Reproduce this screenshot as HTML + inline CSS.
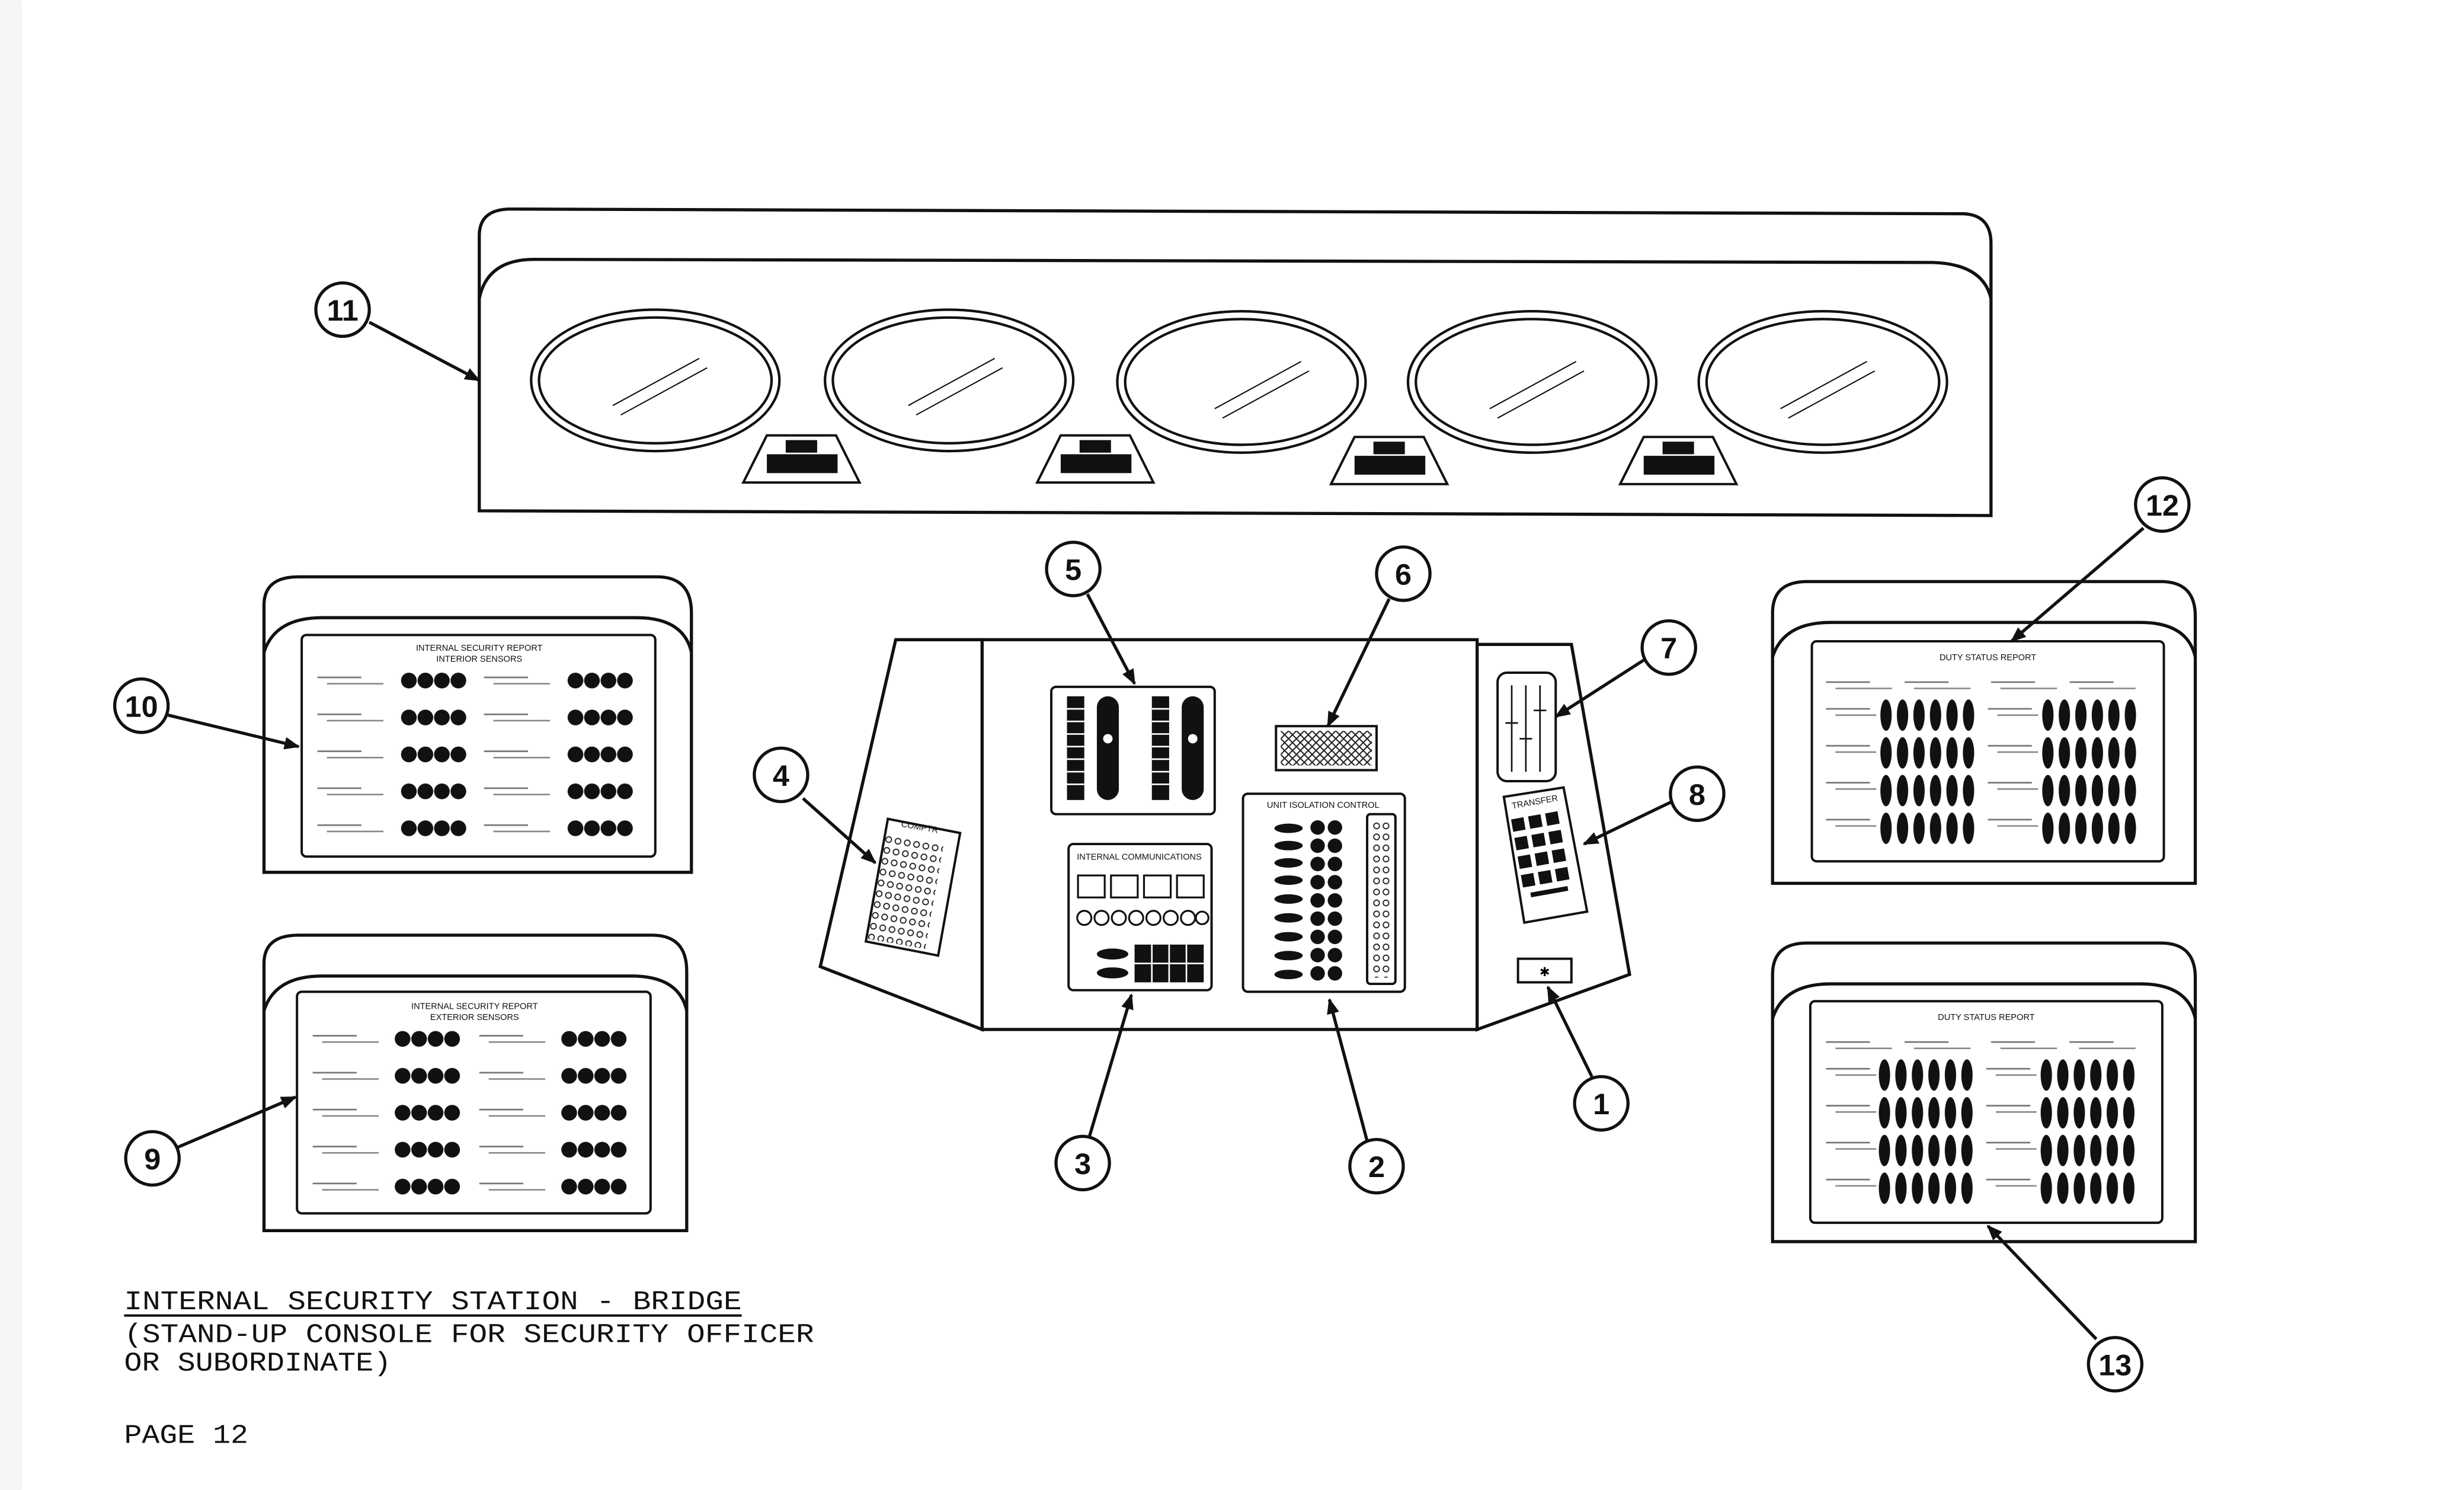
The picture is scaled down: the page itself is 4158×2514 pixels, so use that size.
<!DOCTYPE html>
<html><head><meta charset="utf-8">
<style>
html,body{margin:0;padding:0;background:#fff;}
svg{display:block;}
</style></head>
<body>
<svg width="4158" height="2514" viewBox="0 0 1568 948" xmlns="http://www.w3.org/2000/svg">
<defs>
<marker id="ah" markerWidth="10" markerHeight="8" refX="9" refY="4" orient="auto" markerUnits="userSpaceOnUse">
<path d="M0,0 L10,4 L0,8 Z" fill="#111"/>
</marker>
<pattern id="ov" width="10.5" height="24" patternUnits="userSpaceOnUse">
<ellipse cx="5.2" cy="12" rx="3.6" ry="10" fill="#111"/>
</pattern>
<pattern id="hx" width="10.5" height="23.5" patternUnits="userSpaceOnUse">
<circle cx="5.2" cy="6" r="5" fill="#111"/>
</pattern>
<pattern id="hx2" width="11" height="11.6" patternUnits="userSpaceOnUse">
<circle cx="5.5" cy="5.5" r="4.6" fill="#111"/>
</pattern>
<pattern id="xh" width="5" height="5" patternUnits="userSpaceOnUse">
<path d="M0,0 L5,5 M5,0 L0,5" stroke="#222" stroke-width="0.8"/>
</pattern>
<pattern id="dots" width="6" height="7" patternUnits="userSpaceOnUse">
<circle cx="3" cy="3.5" r="1.8" fill="none" stroke="#222" stroke-width="0.7"/>
</pattern>
<pattern id="txt" width="50" height="23.5" patternUnits="userSpaceOnUse">
<line x1="2" y1="4" x2="30" y2="4" stroke="#777" stroke-width="1"/>
<line x1="8" y1="8" x2="44" y2="8" stroke="#888" stroke-width="1"/>
</pattern>
</defs>
<rect width="1568" height="948" fill="#fff"/>
<rect x="0" y="0" width="14" height="948" fill="#f5f5f8"/>

<g fill="none" stroke="#111" stroke-width="2">
<path d="M305,325 L305,150 Q305,133 325,133 L1250,136 Q1267,137 1267,155 L1267,328 Z" fill="#fff"/>
<path d="M305,190 Q310,165 340,165 L1230,167 Q1262,168 1267,190"/>
<g stroke-width="1.6">
<ellipse cx="417" cy="242" rx="79" ry="45"/><ellipse cx="417" cy="242" rx="74" ry="40"/>
<ellipse cx="604" cy="242" rx="79" ry="45"/><ellipse cx="604" cy="242" rx="74" ry="40"/>
<ellipse cx="790" cy="243" rx="79" ry="45"/><ellipse cx="790" cy="243" rx="74" ry="40"/>
<ellipse cx="975" cy="243" rx="79" ry="45"/><ellipse cx="975" cy="243" rx="74" ry="40"/>
<ellipse cx="1160" cy="243" rx="79" ry="45"/><ellipse cx="1160" cy="243" rx="74" ry="40"/>
</g>
<g stroke-width="0.8">
<path d="M390,258 L445,228 M395,264 L450,234"/>
<path d="M578,258 L633,228 M583,264 L638,234"/>
<path d="M773,260 L828,230 M778,266 L833,236"/>
<path d="M948,260 L1003,230 M953,266 L1008,236"/>
<path d="M1133,260 L1188,230 M1138,266 L1193,236"/>
</g>
<g stroke-width="1.5">
<path d="M488,277 L532,277 L547,307 L473,307 Z"/>
<path d="M675,277 L719,277 L734,307 L660,307 Z"/>
<path d="M862,278 L906,278 L921,308 L847,308 Z"/>
<path d="M1046,278 L1090,278 L1105,308 L1031,308 Z"/>
</g>
</g>
<g fill="#111">
<rect x="500" y="280" width="20" height="8"/><rect x="488" y="289" width="45" height="12"/>
<rect x="687" y="280" width="20" height="8"/><rect x="675" y="289" width="45" height="12"/>
<rect x="874" y="281" width="20" height="8"/><rect x="862" y="290" width="45" height="12"/>
<rect x="1058" y="281" width="20" height="8"/><rect x="1046" y="290" width="45" height="12"/>
</g>

<g fill="#fff" stroke="#111" stroke-width="2">
<path d="M168,555 L168,385 Q168,367 190,367 L418,367 Q440,367 440,390 L440,555 Z"/>
<path d="M168,415 Q175,393 205,393 L405,393 Q435,393 440,415" fill="none"/>
<rect x="192" y="404" width="225" height="141" rx="3" stroke-width="1.5"/>
<path d="M168,783 L168,613 Q168,595 190,595 L415,595 Q437,595 437,618 L437,783 Z"/>
<path d="M168,643 Q175,621 205,621 L402,621 Q432,621 437,643" fill="none"/>
<rect x="189" y="631" width="225" height="141" rx="3" stroke-width="1.5"/>
<path d="M1128,562 L1128,390 Q1128,370 1150,370 L1375,370 Q1397,370 1397,392 L1397,562 Z"/>
<path d="M1128,418 Q1135,396 1165,396 L1362,396 Q1392,396 1397,418" fill="none"/>
<rect x="1153" y="408" width="224" height="140" rx="3" stroke-width="1.5"/>
<path d="M1128,790 L1128,620 Q1128,600 1150,600 L1375,600 Q1397,600 1397,622 L1397,790 Z"/>
<path d="M1128,648 Q1135,626 1165,626 L1362,626 Q1392,626 1397,648" fill="none"/>
<rect x="1152" y="637" width="224" height="141" rx="3" stroke-width="1.5"/>
</g>
<g font-family="Liberation Sans, sans-serif" font-size="5.5" text-anchor="middle" fill="#111">
<text x="305" y="414">INTERNAL SECURITY REPORT</text><text x="305" y="421">INTERIOR SENSORS</text>
<text x="302" y="642">INTERNAL SECURITY REPORT</text><text x="302" y="649">EXTERIOR SENSORS</text>
<text x="1265" y="420">DUTY STATUS REPORT</text>
<text x="1264" y="649">DUTY STATUS REPORT</text>
</g>
<g transform="translate(200,427)"><rect width="52" height="117" fill="url(#txt)"/></g>
<g transform="translate(306,427)"><rect width="52" height="117" fill="url(#txt)"/></g>
<g transform="translate(255,427)"><rect width="42" height="117" fill="url(#hx)"/></g>
<g transform="translate(361,427)"><rect width="42" height="117" fill="url(#hx)"/></g>
<g transform="translate(197,655)"><rect width="52" height="117" fill="url(#txt)"/></g>
<g transform="translate(303,655)"><rect width="52" height="117" fill="url(#txt)"/></g>
<g transform="translate(251,655)"><rect width="42" height="117" fill="url(#hx)"/></g>
<g transform="translate(357,655)"><rect width="42" height="117" fill="url(#hx)"/></g>
<g transform="translate(1160,430)"><rect width="100" height="9" fill="url(#txt)"/></g>
<g transform="translate(1265,430)"><rect width="100" height="9" fill="url(#txt)"/></g>
<g transform="translate(1160,447)"><rect width="34" height="96" fill="url(#txt)"/></g>
<g transform="translate(1263,447)"><rect width="34" height="96" fill="url(#txt)"/></g>
<g transform="translate(1195,443)"><rect width="63" height="96" fill="url(#ov)"/></g>
<g transform="translate(1298,443)"><rect width="63" height="96" fill="url(#ov)"/></g>
<g transform="translate(1160,659)"><rect width="100" height="9" fill="url(#txt)"/></g>
<g transform="translate(1265,659)"><rect width="100" height="9" fill="url(#txt)"/></g>
<g transform="translate(1160,676)"><rect width="34" height="96" fill="url(#txt)"/></g>
<g transform="translate(1262,676)"><rect width="34" height="96" fill="url(#txt)"/></g>
<g transform="translate(1194,672)"><rect width="63" height="96" fill="url(#ov)"/></g>
<g transform="translate(1297,672)"><rect width="63" height="96" fill="url(#ov)"/></g>

<g fill="#fff" stroke="#111" stroke-width="2">
<path d="M570,407 L625,407 L625,655 L522,615 Z"/>
<rect x="625" y="407" width="315" height="248"/>
<path d="M940,410 L1000,410 L1037,620 L940,655 Z"/>
</g>
<g fill="none" stroke="#111" stroke-width="1.5">
<rect x="669" y="437" width="104" height="81" rx="3"/>
<rect x="812" y="462" width="64" height="28"/>
<rect x="680" y="537" width="91" height="93" rx="3"/>
<rect x="791" y="505" width="103" height="126" rx="3"/>
<rect x="870" y="518" width="18" height="108" rx="2"/>
<path d="M565,521 L611,530 L597,608 L551,599 Z"/>
<rect x="953" y="428" width="37" height="69" rx="6"/>
<path d="M957,507 L995,501 L1010,580 L970,587 Z"/>
<rect x="966" y="610" width="34" height="15"/>
</g>
<g transform="translate(815,465)"><rect width="58" height="22" fill="url(#xh)"/></g>
<g fill="#111">
<rect x="679" y="443" width="11" height="66"/><rect x="733" y="443" width="11" height="66"/>
<rect x="698" y="443" width="14" height="66" rx="7"/><rect x="752" y="443" width="14" height="66" rx="7"/>
</g>
<g stroke="#fff" stroke-width="1"><path d="M679,451h11M679,459h11M679,467h11M679,475h11M679,483h11M679,491h11M679,499h11M733,451h11M733,459h11M733,467h11M733,475h11M733,483h11M733,491h11M733,499h11"/></g>
<circle cx="705" cy="470" r="3" fill="#fff"/><circle cx="759" cy="470" r="3" fill="#fff"/>
<g font-family="Liberation Sans, sans-serif" font-size="5.5" text-anchor="middle" fill="#111">
<text x="725" y="547">INTERNAL COMMUNICATIONS</text>
<text x="842" y="514">UNIT ISOLATION CONTROL</text>
<text x="585" y="528" transform="rotate(10 585 528)">COMPTR</text>
<text x="977" y="512" transform="rotate(-10 977 512)">TRANSFER</text>
</g>
<g fill="none" stroke="#111" stroke-width="1.2">
<rect x="686" y="557" width="17" height="14"/><rect x="707" y="557" width="17" height="14"/>
<rect x="728" y="557" width="17" height="14"/><rect x="749" y="557" width="17" height="14"/>
<circle cx="690" cy="584" r="4.5"/><circle cx="701" cy="584" r="4.5"/><circle cx="712" cy="584" r="4.5"/><circle cx="723" cy="584" r="4.5"/><circle cx="734" cy="584" r="4.5"/><circle cx="745" cy="584" r="4.5"/><circle cx="756" cy="584" r="4.5"/><circle cx="765" cy="584" r="4"/>
</g>
<g fill="#111">
<ellipse cx="708" cy="607" rx="10" ry="3.5"/><ellipse cx="708" cy="619" rx="10" ry="3.5"/>
<rect x="722" y="601" width="44" height="24"/>
</g>
<g stroke="#fff" stroke-width="1"><path d="M733,601v24M744,601v24M755,601v24M722,613h44"/></g>
<g fill="#111">
<ellipse cx="820" cy="527" rx="9" ry="3"/><ellipse cx="820" cy="538" rx="9" ry="3"/><ellipse cx="820" cy="549" rx="9" ry="3"/><ellipse cx="820" cy="560" rx="9" ry="3"/><ellipse cx="820" cy="572" rx="9" ry="3"/><ellipse cx="820" cy="584" rx="9" ry="3"/><ellipse cx="820" cy="596" rx="9" ry="3"/><ellipse cx="820" cy="608" rx="9" ry="3"/><ellipse cx="820" cy="620" rx="9" ry="3"/>
</g>
<g transform="translate(833,521)"><rect width="22" height="104" fill="url(#hx2)"/></g>
<g transform="translate(873,522)"><rect width="12" height="100" fill="url(#dots)"/></g>
<g transform="rotate(10 576 567) translate(557,533)"><rect width="38" height="68" fill="url(#dots)"/></g>
<g stroke="#111" stroke-width="1"><path d="M962,436v55M971,436v55M980,436v55"/><path d="M958,460h8M967,470h8M976,452h8"/></g>
<g fill="#111" transform="rotate(-10 983 545)">
<rect x="966" y="518" width="8" height="8"/><rect x="977" y="518" width="8" height="8"/><rect x="988" y="518" width="8" height="8"/>
<rect x="966" y="530" width="8" height="8"/><rect x="977" y="530" width="8" height="8"/><rect x="988" y="530" width="8" height="8"/>
<rect x="966" y="542" width="8" height="8"/><rect x="977" y="542" width="8" height="8"/><rect x="988" y="542" width="8" height="8"/>
<rect x="966" y="554" width="8" height="8"/><rect x="977" y="554" width="8" height="8"/><rect x="988" y="554" width="8" height="8"/>
<rect x="970" y="566" width="24" height="3"/>
</g>
<text x="983" y="621" font-size="8" text-anchor="middle" font-family="Liberation Sans, sans-serif">✱</text>

<g stroke="#111" stroke-width="2" marker-end="url(#ah)">
<line x1="235" y1="205" x2="305" y2="242"/>
<line x1="107" y1="455" x2="190" y2="475"/>
<line x1="113" y1="730" x2="188" y2="698"/>
<line x1="692" y1="378" x2="722" y2="435"/>
<line x1="884" y1="381" x2="845" y2="462"/>
<line x1="1046" y1="420" x2="990" y2="456"/>
<line x1="1064" y1="510" x2="1008" y2="537"/>
<line x1="511" y1="508" x2="557" y2="549"/>
<line x1="1013" y1="685" x2="985" y2="628"/>
<line x1="870" y1="726" x2="846" y2="636"/>
<line x1="693" y1="724" x2="720" y2="633"/>
<line x1="1364" y1="336" x2="1280" y2="408"/>
<line x1="1334" y1="852" x2="1265" y2="780"/>
</g>
<g fill="#fff" stroke="#111" stroke-width="2">
<circle cx="218" cy="197" r="17"/><circle cx="90" cy="449" r="17"/><circle cx="97" cy="737" r="17"/>
<circle cx="683" cy="362" r="17"/><circle cx="893" cy="365" r="17"/><circle cx="1062" cy="412" r="17"/>
<circle cx="1080" cy="505" r="17"/><circle cx="497" cy="493" r="17"/><circle cx="1019" cy="702" r="17"/>
<circle cx="876" cy="742" r="17"/><circle cx="689" cy="740" r="17"/><circle cx="1376" cy="321" r="17"/>
<circle cx="1346" cy="868" r="17"/>
</g>
<g font-family="Liberation Sans Narrow, Liberation Sans, sans-serif" font-weight="bold" font-size="19" text-anchor="middle" fill="#111">
<text x="218" y="204">11</text><text x="90" y="456">10</text><text x="97" y="744">9</text>
<text x="683" y="369">5</text><text x="893" y="372">6</text><text x="1062" y="419">7</text>
<text x="1080" y="512">8</text><text x="497" y="500">4</text><text x="1019" y="709">1</text>
<text x="876" y="749">2</text><text x="689" y="747">3</text><text x="1376" y="328">12</text>
<text x="1346" y="875">13</text>
</g>

<g font-family="Liberation Mono, monospace" font-size="17" fill="#111">
<text x="79" y="833" textLength="393" lengthAdjust="spacingAndGlyphs">INTERNAL SECURITY STATION - BRIDGE</text>
<text x="79" y="854" textLength="439" lengthAdjust="spacingAndGlyphs">(STAND-UP CONSOLE FOR SECURITY OFFICER</text>
<text x="79" y="872" textLength="170" lengthAdjust="spacingAndGlyphs">OR SUBORDINATE)</text>
<text x="79" y="918" textLength="79" lengthAdjust="spacingAndGlyphs">PAGE 12</text>
</g>
<line x1="79" y1="837" x2="472" y2="837" stroke="#111" stroke-width="1.5"/>
</svg>
</body></html>
